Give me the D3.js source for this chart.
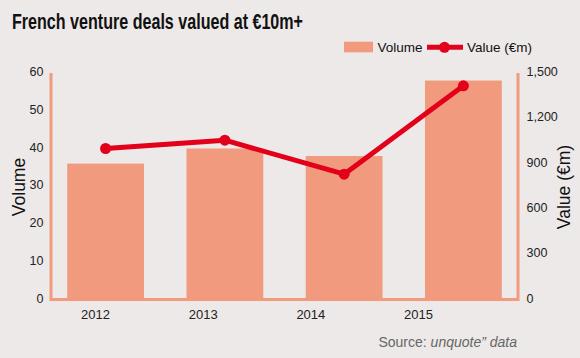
<!DOCTYPE html>
<html>
<head>
<meta charset="utf-8">
<script src="https://cdn.jsdelivr.net/npm/d3@7"></script>
<style>
  html, body { margin: 0; padding: 0; background: #ede9e8; }
  svg { display: block; }
</style>
</head>
<body>
<svg id="chart" width="580" height="358"></svg>
<script>
const years = ["2012", "2013", "2014", "2015"];
const volume = [36, 40, 38, 58];
const valueEm = [1000, 1055, 830, 1415];
const volumeTicks = [0, 10, 20, 30, 40, 50, 60];
const valueTicks = [0, 300, 600, 900, 1200, 1500];

(function () {
const barColor = "#f19a7e";
const lineColor = "#e2001a";
const narrow = "'Liberation Sans Narrow', 'Liberation Sans', Arial, sans-serif";
const regular = "'Liberation Sans', Arial, sans-serif";

const svg = d3.select("#chart");
svg.append("rect").attr("width", 580).attr("height", 358).attr("fill", "#ede9e8");

const pL = 51, pR = 518, pT = 73, pB = 299.5;

const x = d3.scaleBand().domain(years).range([pL, pR])
  .paddingInner(0.356).paddingOuter(0.136);
// category labels sit on their own evenly spaced positions, as in the original
const xLabel = d3.scalePoint().domain(years).range([95, 418]);
const yL = d3.scaleLinear().domain([0, 60]).range([pB, pT]);
const yR = d3.scaleLinear().domain([0, 1500]).range([pB, pT]);

// Title
svg.append("text")
  .attr("x", 12).attr("y", 29.3)
  .attr("font-family", narrow).attr("font-weight", "bold")
  .attr("font-size", 22).attr("fill", "#111")
  .attr("textLength", 291).attr("lengthAdjust", "spacingAndGlyphs")
  .text("French venture deals valued at €10m+");

// Legend
const lg = svg.append("g");
lg.append("rect").attr("x", 344).attr("y", 41.7).attr("width", 29).attr("height", 10.6).attr("fill", barColor);
lg.append("text").attr("x", 377.5).attr("y", 51.5).attr("font-family", narrow)
  .attr("font-size", 13.5).attr("fill", "#111").text("Volume");
lg.append("line").attr("x1", 427).attr("x2", 463).attr("y1", 47.3).attr("y2", 47.3)
  .attr("stroke", lineColor).attr("stroke-width", 5);
lg.append("circle").attr("cx", 444.5).attr("cy", 47.3).attr("r", 5.5).attr("fill", lineColor);
lg.append("text").attr("x", 467).attr("y", 51.5).attr("font-family", narrow)
  .attr("font-size", 13.5).attr("fill", "#111").text("Value (€m)");

// Bars
svg.append("g").selectAll("rect").data(years).join("rect")
  .attr("x", d => x(d))
  .attr("width", x.bandwidth())
  .attr("y", (d, i) => yL(volume[i]))
  .attr("height", (d, i) => yL(0) - yL(volume[i]))
  .attr("fill", barColor);

// Frame axis lines
svg.append("path")
  .attr("d", `M${pL},${pT}V${pB}H${pR}V${pT}`)
  .attr("fill", "none").attr("stroke", barColor).attr("stroke-width", 3);

// Left axis
const axL = svg.append("g").attr("transform", `translate(${pL},0)`)
  .call(d3.axisLeft(yL).tickValues(volumeTicks).tickSize(0).tickPadding(7.5));
axL.select(".domain").remove();
axL.selectAll("text").attr("font-family", regular).attr("font-size", 12.5)
  .attr("fill", "#222").attr("dy", "0.2em");

// Right axis
const axR = svg.append("g").attr("transform", `translate(${pR},0)`)
  .call(d3.axisRight(yR).tickValues(valueTicks).tickSize(0).tickPadding(8.5).tickFormat(d3.format(",")));
axR.select(".domain").remove();
axR.selectAll("text").attr("font-family", regular).attr("font-size", 12.5)
  .attr("fill", "#222").attr("dy", "0.2em");

// Bottom axis
const axB = svg.append("g").attr("transform", `translate(0,${pB})`)
  .call(d3.axisBottom(xLabel).tickSize(0).tickPadding(10));
axB.select(".domain").remove();
axB.selectAll("text").attr("font-family", narrow).attr("font-size", 13).attr("fill", "#222");

// Axis titles
svg.append("text")
  .attr("transform", "translate(25,187) rotate(-90)")
  .attr("text-anchor", "middle").attr("font-family", narrow)
  .attr("font-size", 17.5).attr("fill", "#111").text("Volume");
svg.append("text")
  .attr("transform", "translate(569.5,187) rotate(-90)")
  .attr("text-anchor", "middle").attr("font-family", narrow)
  .attr("font-size", 17.5).attr("fill", "#111").text("Value (€m)");

// Line
const cx = d => x(d) + x.bandwidth() / 2;
const line = d3.line().x(d => cx(d.year)).y(d => yR(d.v));
const pts = years.map((y, i) => ({ year: y, v: valueEm[i] }));
svg.append("path").datum(pts).attr("d", line)
  .attr("fill", "none").attr("stroke", lineColor).attr("stroke-width", 5)
  .attr("stroke-linejoin", "round");
svg.append("g").selectAll("circle").data(pts).join("circle")
  .attr("cx", d => cx(d.year)).attr("cy", d => yR(d.v)).attr("r", 5.5).attr("fill", lineColor);

// Source
const src = svg.append("text").attr("x", 517).attr("y", 346.5).attr("text-anchor", "end")
  .attr("font-family", narrow).attr("font-size", 14).attr("fill", "#666");
src.append("tspan").text("Source: ");
src.append("tspan").attr("font-style", "italic").text("unquote\u201D data");
})();
</script>
</body>
</html>
